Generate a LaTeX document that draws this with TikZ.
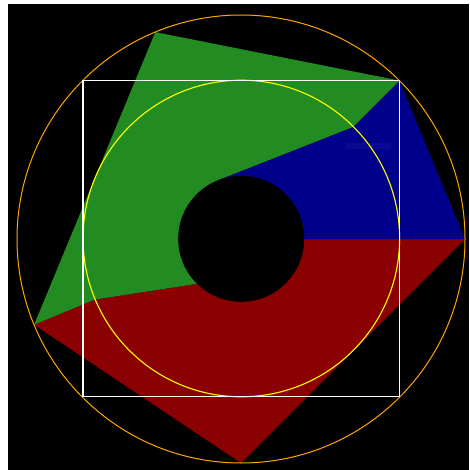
\documentclass[tikz,border=0pt]{standalone}
\usepackage{tikz}
\definecolor{wedgered}{RGB}{139,0,0}
\definecolor{wedgeblue}{RGB}{0,0,139}
\definecolor{wedgegreen}{RGB}{34,139,34}
\definecolor{ghostblue}{RGB}{9,9,146}
\definecolor{ringorange}{RGB}{255,165,0}
\definecolor{ringyellow}{RGB}{255,255,0}
\tikzset{
  wedge/.style={draw=none},
  ring/.style={line width=1pt},
}
\begin{document}
\begin{tikzpicture}[x=1pt,y=-1pt]
\useasboundingbox (0,0) rectangle (469,470);
\fill[white] (0,0) rectangle (469,470);
\fill[black] (8,4) rectangle (469,470);
% key points
\coordinate (C) at (241,239);
\coordinate (O0) at (465,239);
\coordinate (O45) at (399.4,80.6);
\coordinate (O112) at (155.3,32.1);
\coordinate (O202) at (34.1,324.7);
\coordinate (O270) at (241,463);
\coordinate (I45) at (353,127);
\coordinate (I202) at (94.7,299.6);
\coordinate (T1) at (217.7,180.3);
\coordinate (T2) at (241,277);
% wedges
\fill[wedge,wedgered] (C) -- (T2) -- (I202) -- (O202) -- (O270) -- (O0) -- cycle;
\fill[wedge,wedgeblue] (C) -- (O0) -- (O45) -- (I45) -- (T1) -- cycle;
\fill[wedge,wedgegreen] (C) -- (T1) -- (I45) -- (O45) -- (O112) -- (O202) -- (I202) -- (T2) -- cycle;
% faint label box
\fill[ghostblue] (346,142.7) rectangle (390.7,148.7);
% hole
\fill[black] (241.2,238.8) circle[radius=63pt];
% rings and square
\draw[ring,ringyellow,line width=1.1pt] (241.3,238.5) circle[radius=158.3pt];
\draw[ring,ringorange] (241,239) circle[radius=224pt];
\draw[white,line width=1.2pt] (83,80.5) rectangle (399.6,396.8);
\end{tikzpicture}
\end{document}
